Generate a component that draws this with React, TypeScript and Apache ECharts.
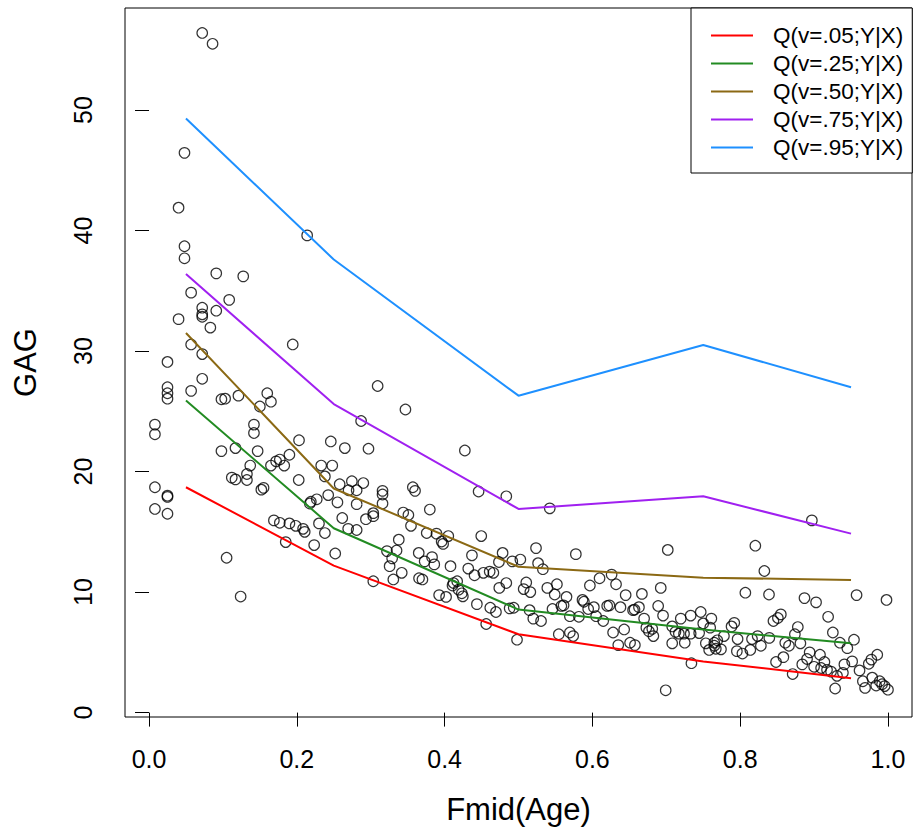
import React, { useEffect, useRef } from "react";
import * as echarts from "echarts";

const FONT = "'Liberation Sans', Arial, Helvetica, sans-serif";

// scatter data: Fmid(Age) and GAG
const fmid: number[] = [
  0.072, 0.086, 0.048, 0.040, 0.214, 0.048, 0.048, 0.091, 0.1275, 0.057, 0.1085, 0.072, 0.072, 0.072, 0.091, 0.040, 0.083, 0.1945, 0.057, 0.072,
  0.025, 0.025, 0.025, 0.025, 0.057, 0.072, 0.008, 0.008, 0.008, 0.008, 0.025, 0.025, 0.025, 0.098, 0.103, 0.121, 0.160, 0.165, 0.150, 0.142,
  0.142, 0.203, 0.246, 0.098, 0.117, 0.147, 0.190, 0.172, 0.177, 0.183, 0.165, 0.137, 0.1325, 0.1325, 0.112, 0.117, 0.2026, 0.233, 0.238, 0.248,
  0.155, 0.152, 0.2176, 0.219, 0.227, 0.2425, 0.169, 0.177, 0.190, 0.1985, 0.2085, 0.2107, 0.185, 0.230, 0.238, 0.2235, 0.105, 0.124,
  0.3094, 0.347, 0.287, 0.265, 0.297, 0.4274, 0.258, 0.2745, 0.290, 0.270, 0.281, 0.316, 0.316, 0.357, 0.360, 0.255, 0.281, 0.316, 0.380, 0.446,
  0.4835, 0.3035, 0.3035, 0.2935, 0.2615, 0.344, 0.351, 0.2695, 0.281, 0.3545, 0.338, 0.3758, 0.389, 0.396, 0.398, 0.405, 0.4496, 0.322, 0.335, 0.252,
  0.365, 0.329, 0.373, 0.383, 0.386, 0.437, 0.4785, 0.4735, 0.4916, 0.5025, 0.3256, 0.342, 0.3306, 0.3035, 0.3654, 0.370, 0.408, 0.432, 0.4405, 0.4525,
  0.461, 0.466, 0.474, 0.4835, 0.507, 0.5105, 0.412, 0.417, 0.4107, 0.419, 0.4233, 0.4247, 0.3926, 0.402, 0.4437, 0.4618, 0.4695, 0.488, 0.4935, 0.4563,
  0.498,
  0.5423, 0.5237, 0.5265, 0.533, 0.5776, 0.702, 0.516, 0.539, 0.552, 0.549, 0.565, 0.5966, 0.6097, 0.626, 0.632, 0.645, 0.667, 0.6925, 0.689, 0.6956,
  0.515, 0.520, 0.5305, 0.546, 0.558, 0.5695, 0.5817, 0.5866, 0.5943, 0.602, 0.605, 0.6147, 0.620, 0.638, 0.655, 0.663, 0.670, 0.628, 0.643, 0.635,
  0.651, 0.6575, 0.673, 0.6765, 0.6825, 0.681, 0.5545, 0.5695, 0.574, 0.708, 0.7124, 0.7196, 0.717, 0.724, 0.708, 0.725, 0.733, 0.733, 0.7445, 0.7466,
  0.750, 0.7535, 0.758, 0.761, 0.765, 0.767, 0.734, 0.6992, 0.5885, 0.561, 0.623, 0.657,
  0.897, 0.8205, 0.8327, 0.807, 0.839, 0.887, 0.9027, 0.9575, 0.998, 0.919, 0.9254, 0.935, 0.945, 0.954, 0.7594, 0.7883, 0.792, 0.778, 0.769, 0.765,
  0.774, 0.7965, 0.7955, 0.803, 0.8137, 0.816, 0.8236, 0.828, 0.8394, 0.845, 0.851, 0.855, 0.861, 0.866, 0.874, 0.878, 0.8815, 0.894, 0.908, 0.8905,
  0.884, 0.900, 0.914, 0.9095, 0.9175, 0.923, 0.931, 0.941, 0.9515, 0.939, 0.871, 0.8485, 0.8585, 0.9285, 0.9615, 0.966, 0.969, 0.974, 0.9775, 0.9855,
  0.9787, 0.984, 0.9888, 0.992, 0.9955, 1.0,
];
const gag: number[] = [
  56.4, 55.5, 46.45, 41.9, 39.6, 38.7, 37.7, 36.45, 36.2, 34.85, 34.25, 33.6, 33.05, 32.85, 33.35, 32.65, 31.95, 30.55, 30.55, 29.75,
  29.1, 27.0, 26.5, 26.05, 26.7, 27.7, 23.9, 23.1, 18.7, 16.9, 18.0, 17.9, 16.5, 26.0, 26.05, 26.3, 26.5, 25.8, 25.4, 23.9,
  23.2, 22.6, 22.5, 21.7, 21.95, 21.7, 21.4, 20.85, 21.0, 20.5, 20.5, 20.5, 19.8, 19.3, 19.5, 19.35, 19.3, 20.5, 19.6, 20.5,
  18.65, 18.5, 17.35, 17.5, 17.7, 18.05, 15.95, 15.75, 15.7, 15.5, 15.25, 15.0, 14.15, 15.7, 14.9, 13.9, 12.85, 9.63,
  27.1, 25.15, 24.2, 21.95, 21.9, 21.75, 18.95, 19.2, 19.05, 18.45, 18.45, 18.4, 18.1, 18.7, 18.4, 17.45, 17.3, 17.35, 16.85, 18.35,
  17.95, 16.55, 16.3, 16.05, 16.15, 16.6, 16.4, 15.25, 15.15, 15.5, 14.35, 14.9, 14.85, 14.2, 14.0, 14.65, 14.65, 13.4, 13.45, 13.2,
  13.25, 12.8, 12.55, 12.9, 12.3, 13.05, 13.25, 12.5, 12.55, 12.7, 12.15, 11.6, 11.05, 10.9, 11.15, 11.05, 12.15, 11.95, 11.4, 11.6,
  11.7, 11.6, 10.35, 10.75, 10.25, 10.8, 10.75, 10.9, 10.55, 10.2, 9.9, 9.65, 9.75, 9.6, 9.0, 8.7, 8.35, 8.65, 8.7, 7.35,
  6.05,
  16.95, 13.65, 12.4, 11.9, 13.15, 13.5, 10.0, 10.35, 10.65, 9.8, 9.6, 10.55, 11.15, 11.45, 10.65, 9.75, 9.85, 10.35, 8.85, 8.05,
  8.5, 7.8, 7.6, 8.6, 8.85, 8.0, 7.95, 9.35, 8.6, 8.75, 8.0, 7.6, 8.85, 8.75, 8.5, 8.75, 7.8, 6.65, 6.9, 5.6,
  5.8, 5.6, 7.05, 6.75, 6.35, 6.95, 6.5, 6.65, 6.35, 7.15, 6.7, 7.8, 6.55, 6.55, 5.75, 5.8, 8.05, 6.55, 6.6, 8.35,
  7.4, 5.75, 5.2, 7.8, 5.8, 5.3, 4.1, 1.85, 9.2, 8.9, 8.9, 8.55,
  15.95, 13.85, 11.75, 9.95, 9.8, 9.5, 9.15, 9.75, 9.35, 7.95, 6.65, 5.8, 5.35, 6.05, 7.05, 7.15, 7.45, 6.35, 6.0, 5.55,
  5.25, 6.1, 5.1, 4.9, 5.2, 6.1, 6.35, 5.55, 6.2, 7.6, 7.85, 8.15, 5.8, 5.55, 6.5, 7.1, 5.75, 5.0, 4.8, 4.45,
  4.0, 3.8, 4.2, 3.7, 3.55, 3.4, 3.05, 4.0, 4.25, 3.3, 3.2, 4.2, 4.6, 2.0, 3.5, 2.6, 2.05, 4.05, 4.4, 4.8,
  2.9, 2.25, 2.6, 2.35, 2.2, 1.9,
];

// quantile curves
const qKnots = [0.05, 0.25, 0.5, 0.75, 0.95];
const q05 = [18.7, 12.2, 6.5, 4.25, 2.85];
const q25 = [25.9, 15.3, 8.55, 6.9, 5.75];
const q50 = [31.5, 18.6, 12.1, 11.2, 11.0];
const q75 = [36.4, 25.6, 16.9, 17.95, 14.85];
const q95 = [49.3, 37.6, 26.3, 30.5, 27.0];

const seriesNames = ["Q(v=.05;Y|X)", "Q(v=.25;Y|X)", "Q(v=.50;Y|X)", "Q(v=.75;Y|X)", "Q(v=.95;Y|X)"];
const seriesColors = ["#FF0000", "#228B22", "#8B6914", "#A020F0", "#1E90FF"];

const xTicks = [0, 0.2, 0.4, 0.6, 0.8, 1.0];
const yTicks = [0, 10, 20, 30, 40, 50];

export default function App() {
  const ref = useRef<HTMLDivElement>(null);
  useEffect(() => {
    document.body.style.margin = "0";
    if (!ref.current) return;
    const chart = echarts.init(ref.current, null, { renderer: "svg" });
    const qs = [q05, q25, q50, q75, q95];
    const option: any = {
      animation: false,
      backgroundColor: "#fff",
      grid: {
        left: 125,
        top: 8,
        width: 787,
        height: 709,
        show: true,
        borderColor: "#000",
        borderWidth: 1,
        backgroundColor: "transparent",
      },
      xAxis: {
        type: "value",
        min: -0.0325,
        max: 1.0325,
        axisLine: { show: false },
        splitLine: { show: false },
        axisTick: {
          show: true,
          inside: false,
          length: 14,
          customValues: xTicks,
          lineStyle: { color: "#000", width: 1 },
        },
        axisLabel: {
          customValues: xTicks,
          formatter: (v: number) => v.toFixed(1),
          fontSize: 25,
          color: "#000",
          fontFamily: FONT,
          margin: 29,
        },
        name: "Fmid(Age)",
        nameLocation: "middle",
        nameGap: 77,
        nameTextStyle: { fontSize: 31, color: "#000", fontFamily: FONT },
      },
      yAxis: {
        type: "value",
        min: -0.365,
        max: 58.47,
        axisLine: { show: false },
        splitLine: { show: false },
        axisTick: {
          show: true,
          inside: false,
          length: 14,
          customValues: yTicks,
          lineStyle: { color: "#000", width: 1 },
        },
        axisLabel: {
          customValues: yTicks,
          rotate: 90,
          fontSize: 25,
          color: "#000",
          fontFamily: FONT,
          margin: 30,
        },
        name: "GAG",
        nameLocation: "middle",
        nameGap: 84,
        nameTextStyle: { fontSize: 31, color: "#000", fontFamily: FONT },
      },
      legend: {
        orient: "vertical",
        left: 691,
        top: 8,
        padding: [16, 9, 14, 20],
        icon: "rect",
        itemWidth: 42,
        itemHeight: 2,
        itemGap: 5,
        backgroundColor: "#fff",
        borderColor: "#000",
        borderWidth: 1,
        borderRadius: 0,
        textStyle: {
          fontSize: 22.5,
          color: "#000",
          fontFamily: FONT,
          lineHeight: 22,
          padding: [0, 0, 0, 15],
        },
        data: seriesNames,
      },
      series: [
        {
          type: "scatter",
          name: "GAG",
          data: fmid.map((x, i) => [x, gag[i]]),
          symbol: "circle",
          symbolSize: 10.5,
          itemStyle: { color: "rgba(0,0,0,0)", borderColor: "#000", borderWidth: 1.2 },
          z: 2,
        },
        ...qs.map((vals, k) => ({
          type: "line",
          name: seriesNames[k],
          data: qKnots.map((x, i) => [x, vals[i]]),
          symbol: "none",
          showSymbol: false,
          lineStyle: { color: seriesColors[k], width: 2 },
          itemStyle: { color: seriesColors[k] },
          z: 3,
        })),
      ],
    };
    chart.setOption(option);
    return () => chart.dispose();
  }, []);
  return <div ref={ref} style={{ width: 913, height: 834 }} />;
}
